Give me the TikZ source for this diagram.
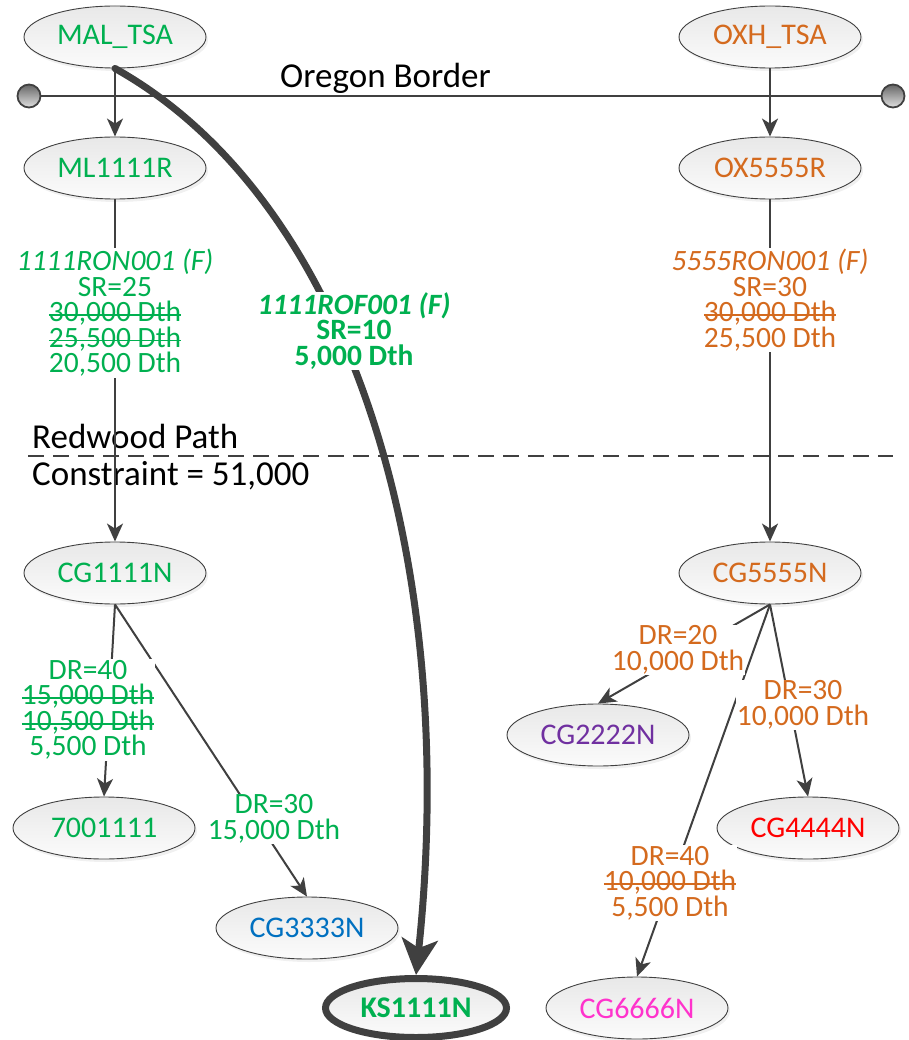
\documentclass[tikz,border=0pt]{standalone}
\usepackage{fontspec}
\setmainfont{Carlito}
\usetikzlibrary{arrows.meta,shapes.geometric,shadows}

\definecolor{grn}{HTML}{00B050}
\definecolor{org}{HTML}{D46A1E}
\definecolor{prp}{HTML}{7030A0}
\definecolor{blu}{HTML}{0070C0}
\definecolor{pnk}{HTML}{FF33CC}
\definecolor{ink}{HTML}{404040}

% struck-through text
\newcommand\strk[1]{\setbox0\hbox{#1}\rlap{\rule[0.2em]{\wd0}{1.6pt}}\box0}

\tikzset{
  site/.style={ellipse, draw=ink, line width=0.9pt,
    top color=gray!18, bottom color=gray!3,
    minimum width=182pt, minimum height=62pt, inner sep=0pt,
    font=\fontsize{30}{30}\selectfont,
    drop shadow={shadow xshift=2pt, shadow yshift=-3pt, opacity=0.12}},
  flow/.style={draw=ink, line width=2pt,
    -{Stealth[length=18pt,width=16pt,inset=5pt]}},
  tag/.style={fill=white, align=center, inner sep=1pt,
    font=\fontsize{29.5}{25.5}\selectfont},
  bigtxt/.style={font=\fontsize{35}{35}\selectfont, anchor=base west, inner sep=0pt},
  ball/.style={circle, draw=ink, line width=1.8pt, minimum size=23pt, inner sep=0pt,
    top color=black!60, bottom color=black!12}
}

\begin{document}
\begin{tikzpicture}[x=1pt,y=-1pt]
\useasboundingbox (0,0) rectangle (908,1040);

% Oregon border
\node[ball] (bl) at (29,96) {};
\node[ball] (br) at (893,96) {};
\draw[ink, line width=2pt] (bl) -- (br);
\node[bigtxt] (ob) at (280,88) {Oregon Border};

% Redwood path constraint
\coordinate (dl) at (28,456);
\coordinate (dr) at (893,456);
\draw[ink, line width=2pt, dash pattern=on 16pt off 9pt] (dl) -- (dr);
\node[bigtxt] (rp) at (32,448) {Redwood Path};
\node[bigtxt] (cn) at (32,485) {Constraint = 51,000};

% locations
\node[site, text=grn] (mal) at (115,37) {MAL\_TSA};
\node[site, text=org] (oxh) at (770,37) {OXH\_TSA};
\node[site, text=grn] (ml) at (115,168) {ML1111R};
\node[site, text=org] (ox) at (770,168) {OX5555R};
\node[site, text=grn] (cg1) at (115,573) {CG1111N};
\node[site, text=org] (cg5) at (770,573) {CG5555N};
\node[site, text=prp] (cg2) at (598,735) {CG2222N};
\node[site, text=grn] (n700) at (104,828) {7001111};
\node[site, text=red] (cg4) at (808,828) {CG4444N};
\node[site, text=blu] (cg3) at (307,928) {CG3333N};
\node[site, text=grn, line width=7pt, minimum width=181pt, minimum height=59pt,
      font=\fontsize{30}{30}\selectfont\bfseries] (ks) at (416,1008) {KS1111N};
\node[site, text=pnk] (cg6) at (637,1008) {CG6666N};

% flows
\draw[flow] (mal.south) -- (ml.north);
\draw[flow] (oxh.south) -- (ox.north);
\draw[flow] (ml.south) -- (cg1.north);
\draw[flow] (ox.south) -- (cg5.north);
\draw[flow] (cg1.south) -- (n700.north);
\draw[flow] (cg1.south) -- (cg3.north);
\draw[flow] (cg5.south) -- (cg2.north);
\draw[flow] (cg5.south) -- (cg4.north);
\draw[flow] (cg5.south) -- (cg6.north);

% off-system path
\draw[ink, line width=7pt, line cap=round,
      -{Stealth[length=36pt,width=36pt,inset=9pt]}]
  (mal.south) .. controls (350,200) and (460,560) .. (ks.north);

% flow labels
\node[tag, text=grn] (l1) at (115,313)
  {\textit{1111RON001 (F)}\\SR=25\\\strk{30,000 Dth}\\\strk{25,500 Dth}\\20,500 Dth};
\node[tag, text=org] (l2) at (770,300)
  {\textit{5555RON001 (F)}\\SR=30\\\strk{30,000 Dth}\\25,500 Dth};
\node[tag, text=grn, font=\fontsize{29.5}{25.5}\selectfont\bfseries] (l3) at (354,331)
  {\textit{1111ROF001 (F)}\\SR=10\\5,000 Dth};
\node[tag, text=grn] (l4) at (88,710)
  {DR=40\\\strk{15,000 Dth}\\\strk{10,500 Dth}\\5,500 Dth};
\node[tag, text=grn] (l5) at (274,819) {DR=30\\15,000 Dth};
\node[tag, text=org] (l6) at (678,650) {DR=20\\10,000 Dth};
\node[tag, text=org] (l7) at (803,705) {DR=30\\10,000 Dth};
\node[tag, text=org] (l8) at (670,883) {DR=40\\\strk{10,000 Dth}\\5,500 Dth};
\end{tikzpicture}
\end{document}
